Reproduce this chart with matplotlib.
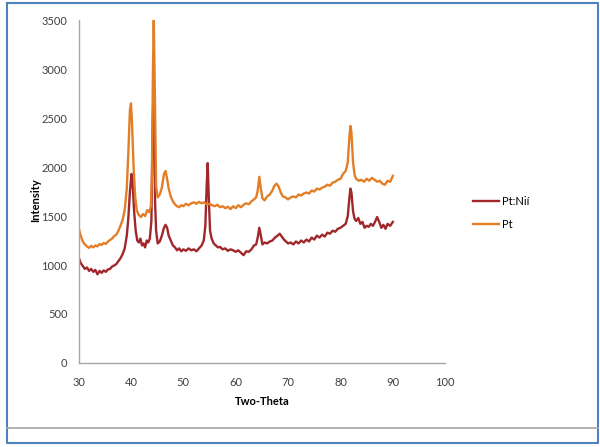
"""
XRD patterns of Pt and Pt:Ni catalysts, redrawn in an Excel-like style.
"""

import matplotlib

matplotlib.use("Agg")

import matplotlib.pyplot as plt
from matplotlib.lines import Line2D

# Pt:Ni series (two-theta, intensity)
ptni_theta = [
    30.0, 30.4, 30.8, 31.2, 31.6, 32.0, 32.4, 32.8, 33.2, 33.6, 34.0, 34.4,
    34.8, 35.2, 35.6, 36.0, 36.4, 36.8, 37.2, 37.6, 38.0, 38.4, 38.8, 39.2,
    39.5, 39.8, 40.1, 40.3, 40.6, 40.9, 41.2, 41.5, 41.8, 42.1, 42.4, 42.7,
    43.0, 43.3, 43.6, 43.9, 44.1, 44.35, 44.6, 44.8, 45.1, 45.5, 45.9, 46.3,
    46.6, 46.9, 47.2, 47.6, 48.0, 48.4, 48.8, 49.2, 49.6, 50.0, 50.5, 51.0,
    51.5, 52.0, 52.5, 53.0, 53.5, 53.9, 54.2, 54.45, 54.65, 54.85, 55.1, 55.4,
    55.8, 56.2, 56.6, 57.0, 57.5, 58.0, 58.5, 59.0, 59.5, 60.0, 60.5, 61.0,
    61.5, 62.0, 62.5, 63.0, 63.5, 63.9, 64.2, 64.5, 64.8, 65.1, 65.5, 66.0,
    66.5, 67.0, 67.5, 68.0, 68.4, 68.8, 69.2, 69.6, 70.0, 70.5, 71.0, 71.5,
    72.0, 72.5, 73.0, 73.5, 74.0, 74.5, 75.0, 75.5, 76.0, 76.5, 77.0, 77.5,
    78.0, 78.5, 79.0, 79.5, 80.0, 80.5, 81.0, 81.4, 81.7, 81.9, 82.1, 82.4,
    82.7, 83.0, 83.4, 83.8, 84.2, 84.6, 85.0, 85.4, 85.8, 86.2, 86.6, 87.0,
    87.4, 87.8, 88.2, 88.6, 89.0, 89.5, 90.0,
]
ptni_intensity = [
    1080, 1020, 990, 960, 975, 940, 960, 930, 950, 905, 940, 920,
    945, 930, 955, 960, 985, 995, 1010, 1040, 1070, 1110, 1170, 1300,
    1480, 1750, 1930, 1850, 1550, 1350, 1250, 1230, 1270, 1200, 1220, 1180,
    1250, 1230, 1270, 1450, 2300, 2900, 1650, 1350, 1220, 1240, 1300, 1380,
    1410, 1380, 1300, 1250, 1200, 1180, 1150, 1170, 1140, 1160, 1145, 1170,
    1150, 1160, 1140, 1170, 1200, 1250, 1400, 1800, 2040, 1700, 1350, 1270,
    1220, 1200, 1180, 1185, 1160, 1170, 1145, 1160, 1150, 1135, 1150, 1125,
    1100, 1140, 1135, 1160, 1200, 1210, 1280, 1380, 1300, 1210, 1230, 1220,
    1240, 1250, 1280, 1300, 1320, 1290, 1260, 1240, 1220, 1230, 1210, 1240,
    1220, 1250, 1230, 1260, 1240, 1280, 1260, 1300, 1280, 1310, 1290, 1330,
    1320, 1350, 1340, 1370, 1380, 1400, 1420, 1500, 1680, 1780, 1740, 1550,
    1470, 1450, 1480, 1420, 1440, 1380, 1400, 1390, 1420, 1400, 1440, 1490,
    1440, 1380, 1410, 1370, 1420, 1400, 1440,
]

# Pt series (two-theta, intensity)
pt_theta = [
    30.0, 30.4, 30.8, 31.2, 31.6, 32.0, 32.4, 32.8, 33.2, 33.6, 34.0, 34.4,
    34.8, 35.2, 35.6, 36.0, 36.4, 36.8, 37.2, 37.6, 38.0, 38.4, 38.8, 39.2,
    39.5, 39.8, 40.0, 40.2, 40.5, 40.8, 41.1, 41.5, 41.9, 42.3, 42.7, 43.1,
    43.5, 43.8, 44.0, 44.2, 44.35, 44.55, 44.8, 45.1, 45.5, 45.9, 46.3, 46.6,
    46.9, 47.2, 47.6, 48.0, 48.4, 48.8, 49.2, 49.6, 50.0, 50.5, 51.0, 51.5,
    52.0, 52.5, 53.0, 53.5, 54.0, 54.5, 55.0, 55.5, 56.0, 56.5, 57.0, 57.5,
    58.0, 58.5, 59.0, 59.5, 60.0, 60.5, 61.0, 61.5, 62.0, 62.5, 63.0, 63.5,
    63.9, 64.2, 64.5, 64.8, 65.1, 65.5, 66.0, 66.5, 67.0, 67.4, 67.8, 68.2,
    68.6, 69.0, 69.5, 70.0, 70.5, 71.0, 71.5, 72.0, 72.5, 73.0, 73.5, 74.0,
    74.5, 75.0, 75.5, 76.0, 76.5, 77.0, 77.5, 78.0, 78.5, 79.0, 79.5, 80.0,
    80.5, 81.0, 81.4, 81.7, 81.9, 82.1, 82.4, 82.7, 83.0, 83.5, 84.0, 84.5,
    85.0, 85.5, 86.0, 86.5, 87.0, 87.5, 88.0, 88.5, 89.0, 89.5, 90.0,
]
pt_intensity = [
    1380, 1300, 1240, 1210, 1190, 1175, 1195, 1180, 1200, 1190, 1215, 1205,
    1225, 1215, 1240, 1255, 1270, 1295, 1310, 1350, 1400, 1460, 1560, 1780,
    2150, 2580, 2650, 2450, 2000, 1700, 1560, 1510, 1490, 1520, 1500, 1560,
    1540, 1600, 1900, 3000, 3500, 2800, 1800, 1690, 1720, 1790, 1930, 1960,
    1880, 1780, 1700, 1650, 1620, 1600, 1590, 1610, 1600, 1625, 1610, 1630,
    1640, 1625, 1645, 1630, 1640, 1620, 1625, 1610, 1600, 1615, 1590, 1600,
    1580, 1595, 1570, 1600, 1580, 1610, 1590, 1615, 1630, 1620, 1650, 1670,
    1690, 1760, 1900, 1780, 1680, 1660, 1700, 1720, 1760, 1810, 1830, 1800,
    1740, 1700, 1690, 1670, 1690, 1700, 1690, 1720, 1710, 1730, 1740, 1730,
    1760, 1750, 1780, 1770, 1790, 1800, 1820, 1810, 1840, 1850, 1870, 1880,
    1930, 1960, 2050, 2300, 2420, 2350, 2050, 1920, 1880, 1860, 1870, 1850,
    1880, 1860, 1890, 1870, 1850, 1860, 1830, 1820, 1860, 1850, 1910,
]

x_ticks = [30, 40, 50, 60, 70, 80, 90, 100]
y_ticks = [0, 500, 1000, 1500, 2000, 2500, 3000, 3500]

PTNI_COLOR = "#A0282B"
PT_COLOR = "#E37E26"
FRAME_BLUE = "#4F81BD"


def draw_frame(fig):
    """Blue border around the picture plus the grey rule near the bottom."""
    left, right, top, bottom = 0.012, 0.997, 0.993, 0.009
    fig.add_artist(Line2D([left, right, right, left, left],
                          [top, top, bottom, bottom, top],
                          color=FRAME_BLUE, linewidth=1.5))
    fig.add_artist(Line2D([left, right], [0.0425, 0.0425],
                          color="#A6A6A6", linewidth=1.2))


def main():
    plt.rcParams["font.family"] = ["Lato", "DejaVu Sans"]

    fig = plt.figure(figsize=(6.0, 4.47), dpi=100)
    ax = fig.add_axes([0.131, 0.188, 0.611, 0.767])

    ax.plot(ptni_theta, ptni_intensity, color=PTNI_COLOR, linewidth=1.7,
            label="Pt:Nií")
    ax.plot(pt_theta, pt_intensity, color=PT_COLOR, linewidth=1.7,
            label="Pt")

    ax.set_xlim(30, 100)
    ax.set_ylim(0, 3500)
    ax.set_xticks(x_ticks)
    ax.set_yticks(y_ticks)

    for side in ("top", "right"):
        ax.spines[side].set_visible(False)
    for side in ("left", "bottom"):
        ax.spines[side].set_color("#A6A6A6")
        ax.spines[side].set_linewidth(1.0)

    ax.tick_params(axis="both", length=0, labelsize=8, colors="#404040")
    ax.tick_params(axis="y", pad=8)
    ax.tick_params(axis="x", pad=10)

    ax.set_xlabel("Two-Theta", fontsize=8, fontweight="bold")
    ax.set_ylabel("Intensity", fontsize=8, fontweight="bold")
    ax.xaxis.set_label_coords(0.5, -0.095)
    ax.yaxis.set_label_coords(-0.102, 0.475)

    fig.legend(loc="upper left", bbox_to_anchor=(0.788, 0.562),
               frameon=False, fontsize=8, handlelength=2.4,
               handletextpad=0.25, labelspacing=1.1, borderpad=0,
               borderaxespad=0)

    draw_frame(fig)

    fig.savefig("out.png", dpi=100)
    plt.close(fig)


if __name__ == "__main__":
    main()
